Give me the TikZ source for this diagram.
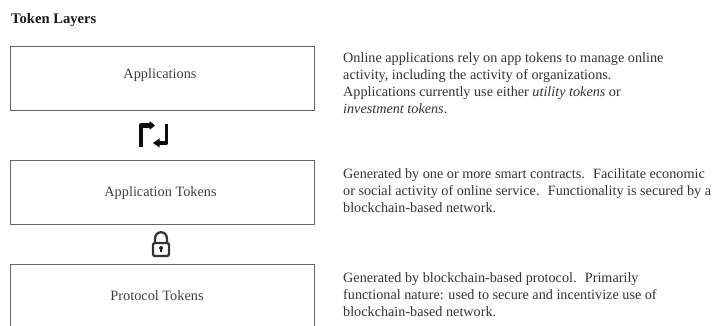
\documentclass[tikz,border=0pt]{standalone}
\usepackage{fontspec}
\setmainfont{Liberation Serif}
\usetikzlibrary{arrows.meta}
\tikzset{
  layerbox/.style={draw=black!60,line width=1.2pt,minimum width=304pt,anchor=north west,inner sep=0pt},
  boxlabel/.style={inner sep=0pt,text=black!75,font=\fontsize{14.3}{16}\selectfont},
  desc/.style={anchor=north west,align=left,inner sep=0pt,text=black!80,font=\fontsize{14.2}{17}\selectfont},
  icon/.style={draw=black!95,line join=round},
  lockline/.style={draw=black!80,line width=2.3pt,line join=round,fill=none},
}
\begin{document}
\begin{tikzpicture}[x=1pt,y=-1pt]
\useasboundingbox (0,0) rectangle (713,326);
\clip (0,0) rectangle (713,326);
\fill[white] (0,0) rectangle (713,326);
\node[anchor=west,inner sep=0pt,text=black!90,font=\fontsize{14.6}{16}\selectfont\bfseries] (title) at (11,20.5) {Token Layers};
\node[layerbox,minimum height=64pt] (apps) at (10,46) {};
\node[layerbox,minimum height=64pt] (apptok) at (10,160) {};
\node[layerbox,minimum height=70pt] (prot) at (10,264) {};
\node[boxlabel] (l1) at (160,75.5) {Applications};
\node[boxlabel] (l2) at (160.5,193.5) {Application Tokens};
\node[boxlabel] (l3) at (157,296) {Protocol Tokens};
\path[icon,line width=4.5pt] (141,147) -- (141,125.5) -- (151,125.5);
\fill[black!95] (149.5,121) -- (155,125.5) -- (149.5,130) -- cycle;
\path[icon,line width=3.5pt] (166.5,124) -- (166.5,143) -- (158,143);
\fill[black!95] (159.5,138.5) -- (153,143) -- (159.5,147.5) -- cycle;
\path[lockline] (155,244) -- (155,239) .. controls (155,230) and (167,230) .. (167,239) -- (167,244);
\draw[lockline,rounded corners=2pt,fill=white] (153,243) rectangle (169,256);
\fill[black!85] (161,248) circle (2);
\fill[black!85] (160,248) rectangle (162,252.5);
\node[desc] (d1) at (343,52.5) {Online applications rely on app tokens to manage online\\activity, including the activity of organizations.\\Applications currently use either \textit{utility tokens} or\\\textit{investment tokens}.};
\node[desc] (d2) at (343,168.5) {Generated by one or more smart contracts.~ Facilitate economic\\or social activity of online service.~ Functionality is secured by a\\blockchain-based network.};
\node[desc] (d3) at (343,272.5) {Generated by blockchain-based protocol.~ Primarily\\functional nature: used to secure and incentivize use of\\blockchain-based network.};
\end{tikzpicture}
\end{document}
